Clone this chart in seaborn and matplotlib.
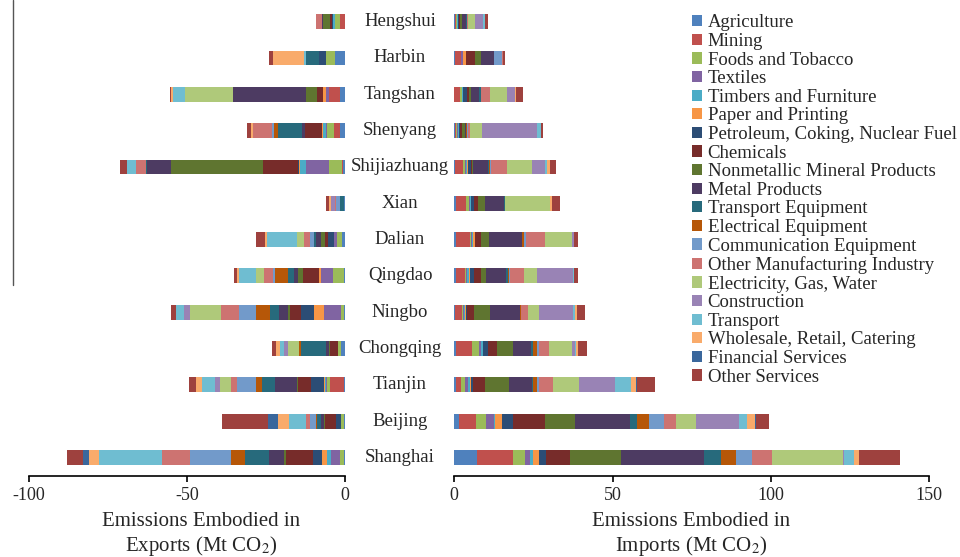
import matplotlib
matplotlib.use("Agg")
import matplotlib.pyplot as plt
import matplotlib.transforms as mtransforms
from matplotlib.lines import Line2D
from matplotlib.patches import Patch
import pandas as pd
import seaborn as sns

cities = ["Hengshui", "Harbin", "Tangshan", "Shenyang", "Shijiazhuang", "Xian",
          "Dalian", "Qingdao", "Ningbo", "Chongqing", "Tianjin", "Beijing", "Shanghai"]

sectors = ["Agriculture", "Mining", "Foods and Tobacco", "Textiles",
           "Timbers and Furniture", "Paper and Printing",
           "Petroleum, Coking, Nuclear Fuel", "Chemicals",
           "Nonmetallic Mineral Products", "Metal Products", "Transport Equipment",
           "Electrical Equipment", "Communication Equipment",
           "Other Manufacturing Industry", "Electricity, Gas, Water",
           "Construction", "Transport", "Wholesale, Retail, Catering",
           "Financial Services", "Other Services"]

colors = ["#4F81BD", "#C0504D", "#9BBB59", "#8064A2", "#4BACC6", "#F79646",
          "#2C4D75", "#772C2A", "#5F7530", "#4D3B62", "#276A7C", "#B65708",
          "#729ACA", "#CD7371", "#AFC97A", "#9983B5", "#6FBDD1", "#F9AB6B",
          "#3A679C", "#9E413E"]

# Mt CO2, one row per city, columns follow `sectors`
exports = [
    [0.0, 1.7, 1.4, 0.2, 0.5, 0.0, 0.2, 0.8, 2.3, 0.2, 0.0, 0.0, 0.0, 1.9, 0.0, 0.0, 0.0, 0.0, 0.0, 0.0],  # Hengshui
    [3.3, 0.0, 2.6, 0.0, 0.0, 0.0, 2.4, 0.0, 0.0, 0.0, 3.9, 0.0, 0.3, 0.0, 0.0, 0.0, 0.5, 9.7, 0.0, 1.2],  # Harbin
    [1.5, 3.7, 0.0, 0.7, 0.0, 1.0, 0.0, 2.1, 3.5, 22.9, 0.0, 0.0, 0.0, 0.0, 15.3, 0.0, 3.7, 0.8, 0.0, 0.3],  # Tangshan
    [1.7, 1.9, 2.1, 0.4, 0.8, 0.4, 0.0, 5.5, 0.0, 0.8, 7.7, 1.1, 0.7, 6.0, 0.0, 0.0, 0.0, 0.8, 0.0, 1.1],  # Shenyang
    [0.5, 0.3, 4.4, 7.0, 2.0, 0.5, 0.3, 10.9, 29.2, 7.7, 0.3, 0.0, 0.0, 3.0, 0.0, 0.0, 2.9, 0.0, 0.0, 2.1],  # Shijiazhuang
    [0.2, 0.0, 0.0, 0.0, 0.0, 0.0, 0.0, 0.0, 0.0, 0.0, 1.5, 0.0, 1.0, 0.6, 0.0, 1.0, 0.0, 0.8, 0.0, 1.0],  # Xian
    [1.0, 0.0, 1.4, 1.0, 0.0, 0.0, 1.9, 1.1, 1.3, 1.4, 0.8, 0.0, 1.3, 1.9, 2.0, 0.0, 9.5, 0.8, 0.0, 2.9],  # Dalian
    [0.2, 0.0, 3.6, 3.7, 0.0, 0.8, 0.0, 5.0, 1.6, 1.4, 1.8, 3.9, 0.8, 2.9, 2.4, 0.0, 5.5, 0.6, 0.0, 1.0],  # Qingdao
    [0.2, 0.0, 1.0, 5.3, 0.0, 3.2, 4.2, 3.4, 0.8, 2.9, 2.7, 4.4, 5.3, 5.8, 10.0, 1.6, 2.6, 0.2, 0.0, 1.4],  # Ningbo
    [1.3, 0.0, 1.0, 0.0, 0.0, 0.0, 0.0, 2.6, 0.3, 0.9, 7.7, 0.7, 0.0, 0.0, 3.4, 1.5, 1.3, 1.2, 0.0, 1.3],  # Chongqing
    [0.4, 4.4, 0.8, 0.5, 0.3, 0.3, 4.2, 3.9, 0.5, 6.9, 4.0, 2.1, 5.8, 2.1, 3.4, 1.4, 4.4, 1.6, 0.0, 2.4],  # Tianjin
    [0.4, 0.0, 1.0, 0.0, 0.0, 0.0, 1.6, 3.2, 0.5, 0.8, 1.3, 0.3, 2.1, 1.1, 0.0, 0.0, 5.3, 3.7, 3.1, 14.6],  # Beijing
    [0.2, 0.0, 1.3, 2.9, 1.4, 1.6, 2.6, 8.8, 0.5, 4.9, 7.5, 4.4, 13.0, 8.9, 0.0, 0.0, 19.7, 3.4, 1.8, 5.0],  # Shanghai
]

imports = [
    [0.3, 0.3, 0.2, 0.2, 0.1, 0.1, 0.2, 0.5, 0.5, 1.4, 0.1, 0.1, 0.1, 0.3, 2.0, 2.6, 0.6, 0.1, 0.1, 0.8],  # Hengshui
    [0.1, 2.0, 0.0, 0.7, 0.0, 1.0, 0.0, 2.6, 2.1, 4.2, 0.0, 0.0, 2.3, 0.5, 0.0, 0.0, 0.0, 0.0, 0.0, 0.6],  # Harbin
    [0.0, 1.8, 0.5, 0.0, 0.5, 0.0, 1.2, 0.6, 0.7, 2.6, 0.5, 0.0, 0.0, 2.9, 5.3, 2.6, 0.0, 0.4, 0.0, 2.1],  # Tangshan
    [0.2, 0.5, 0.3, 0.3, 0.2, 0.0, 0.4, 0.5, 0.9, 0.5, 0.0, 0.3, 0.2, 0.6, 4.0, 17.1, 1.4, 0.0, 0.0, 0.7],  # Shenyang
    [0.2, 2.6, 0.5, 0.3, 0.3, 0.3, 1.1, 0.4, 0.3, 4.5, 0.4, 0.4, 0.2, 5.1, 8.0, 4.0, 0.6, 1.1, 0.0, 1.7],  # Shijiazhuang
    [0.5, 3.2, 0.8, 0.5, 0.4, 0.0, 0.7, 1.4, 2.1, 6.0, 0.3, 0.2, 0.0, 0.0, 14.2, 0.0, 0.0, 0.5, 0.0, 2.6],  # Xian
    [0.5, 4.4, 0.5, 0.3, 0.3, 0.4, 0.0, 2.0, 2.5, 10.4, 0.0, 0.6, 0.8, 5.8, 8.6, 0.6, 0.0, 0.0, 0.0, 1.4],  # Dalian
    [0.4, 2.9, 0.5, 0.3, 0.5, 0.5, 1.0, 2.4, 1.4, 6.3, 0.7, 0.3, 0.5, 4.2, 4.1, 11.4, 0.5, 0.0, 0.0, 1.3],  # Qingdao
    [0.1, 2.4, 0.3, 0.3, 0.4, 0.2, 0.2, 2.3, 5.1, 9.3, 0.2, 0.2, 0.2, 2.0, 3.4, 10.9, 0.7, 0.7, 0.0, 2.4],  # Ningbo
    [0.7, 4.9, 2.1, 0.8, 0.7, 0.0, 1.6, 2.7, 5.2, 5.4, 0.9, 1.1, 0.6, 3.2, 7.4, 0.7, 0.5, 0.7, 0.0, 2.7],  # Chongqing
    [0.4, 1.6, 1.4, 0.8, 0.7, 0.5, 0.5, 3.7, 7.6, 7.5, 0.3, 1.2, 0.4, 4.6, 8.1, 11.4, 5.1, 1.6, 0.2, 5.8],  # Tianjin
    [1.5, 5.4, 3.2, 2.3, 0.6, 2.2, 3.5, 10.0, 9.5, 17.4, 2.1, 3.9, 4.5, 3.8, 6.5, 13.6, 2.4, 2.6, 0.2, 4.3],  # Beijing
    [7.3, 11.4, 3.7, 1.6, 1.0, 1.7, 2.3, 7.6, 16.1, 26.2, 5.4, 4.7, 4.9, 6.3, 22.7, 0.1, 3.2, 1.6, 0.1, 12.8],  # Shanghai
]

sns.set_style("white")
plt.rcParams["font.family"] = ["Liberation Serif", "DejaVu Serif"]
plt.rcParams["mathtext.fontset"] = "stix"
plt.rcParams["axes.unicode_minus"] = False

fig = plt.figure(figsize=(9.6, 5.57), dpi=100)
ax_exp = fig.add_axes([0.0302, 0.146, 0.3292, 0.8477])
ax_imp = fig.add_axes([0.4732, 0.146, 0.4948, 0.8477])


def stacked_bars(ax, table, sign):
    # overlay cumulative totals, widest first, so each sector shows as a segment
    cum = pd.DataFrame(table, index=cities, columns=sectors).cumsum(axis=1)
    for i in range(len(sectors) - 1, -1, -1):
        d = pd.DataFrame({"city": cities, "value": sign * cum.iloc[:, i].values})
        sns.barplot(data=d, x="value", y="city", order=cities, orient="h",
                    color=colors[i], saturation=1, width=0.41, linewidth=0,
                    errorbar=None, ax=ax)
    ax.set_yticks([])
    ax.set_xlabel("")
    ax.set_ylabel("")
    for s in ["top", "right", "left"]:
        ax.spines[s].set_visible(False)
    ax.spines["bottom"].set_color("black")
    ax.spines["bottom"].set_linewidth(1.2)
    ax.tick_params(axis="x", direction="out", length=4, width=1.2, color="black",
                   labelsize=13, pad=4, bottom=True)


stacked_bars(ax_exp, exports, -1)
ax_exp.set_xlim(-100, 0)
ax_exp.set_xticks([-100, -50, 0])

stacked_bars(ax_imp, imports, 1)
ax_imp.set_xlim(0, 150)
ax_imp.set_xticks([0, 50, 100, 150])

trans = mtransforms.blended_transform_factory(fig.transFigure, ax_exp.transData)
for i, c in enumerate(cities):
    ax_exp.text(0.4167, i, c, transform=trans, ha="center", va="center",
                fontsize=13.5, clip_on=False)

fig.text(0.2094, 0.0395, "Emissions Embodied in\nExports (Mt CO$_2$)",
         ha="center", va="center", fontsize=15, linespacing=1.2)
fig.text(0.7198, 0.0395, "Emissions Embodied in\nImports (Mt CO$_2$)",
         ha="center", va="center", fontsize=15, linespacing=1.2)

handles = [Patch(facecolor=c, edgecolor="none") for c in colors]
fig.legend(handles, sectors, loc="upper left", bbox_to_anchor=(0.7205, 0.974),
           frameon=False, fontsize=13.5, handlelength=0.55, handleheight=0.55,
           handletextpad=0.3, borderpad=0, borderaxespad=0, labelspacing=0.085)

fig.add_artist(Line2D([0.0135, 0.0135], [1.0, 0.488], color="#555555", lw=1.0))

fig.savefig("out.png", dpi=100)
